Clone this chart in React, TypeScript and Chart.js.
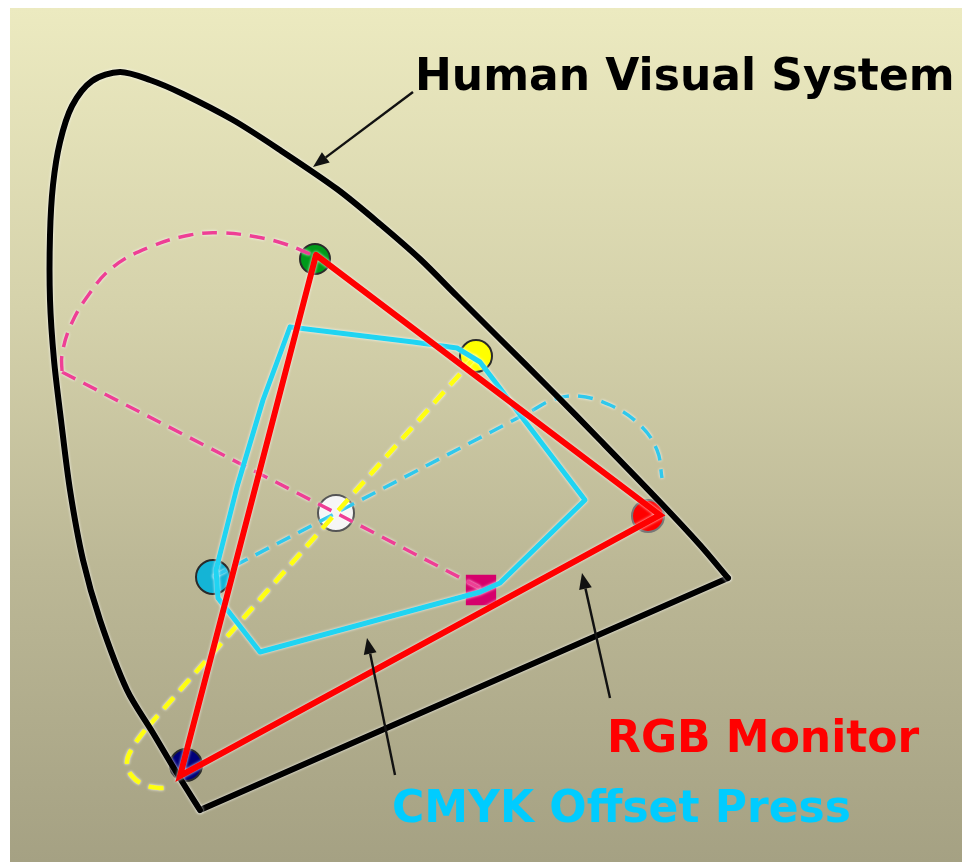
import React, { useEffect, useRef } from "react";
import { Chart, registerables } from "chart.js";

Chart.register(...registerables);

type P = [number, number];

// Diagram coordinates (image units)
const HVS_CURVE: P[] = [
  [200, 810], [178, 775], [153, 733], [127, 690], [100, 620], [83, 560], [70, 490],
  [61, 420], [54, 360], [50, 300], [50, 235], [53, 185], [60, 142], [72, 106],
  [92, 81], [120, 72], [150, 80], [183, 94], [233, 120], [280, 150], [337, 189],
  [380, 224], [420, 259], [457, 296], [500, 339], [550, 389], [600, 440], [660, 502],
  [700, 545], [728, 578],
];
const HVS_BASE: P[] = [[728, 578], [200, 810]];

const RGB_GAMUT: P[] = [[316, 255], [660, 515], [180, 776], [316, 255]];

const CMYK_GAMUT: P[] = [
  [290, 327], [413, 342], [457, 348], [480, 362], [585, 500], [500, 583], [480, 592],
  [260, 652], [218, 598], [216, 570], [237, 487], [263, 400], [290, 327],
];

const MAGENTA_ARC: P[] = [
  [310, 254], [285, 244], [257, 237], [223, 233], [190, 235], [150, 247], [113, 267],
  [87, 297], [70, 327], [62, 355], [62, 372],
];
const MAGENTA_AXIS: P[] = [[62, 372], [336, 513], [480, 588]];

const YELLOW_AXIS: P[] = [[476, 356], [336, 513], [145, 730]];
const YELLOW_ARC: P[] = [
  [145, 730], [133, 747], [127, 762], [132, 776], [145, 785], [160, 788], [172, 787],
];

const CYAN_AXIS: P[] = [[213, 577], [336, 513], [533, 410]];
const CYAN_ARC: P[] = [
  [533, 410], [552, 400], [577, 396], [610, 405], [640, 425], [657, 450], [662, 478],
];

const MARKER_XY: P[] = [
  [315, 259], [476, 356], [213, 577], [186, 765], [481, 590], [336, 513], [648, 516],
];
const MARKER_FILL = ["#009a1a", "#ffff00", "#14b4d6", "#00007a", "#d6006c", "#f6f6f6", "#ff0000"];
const MARKER_EDGE = ["#2a2a2a", "#2a2a2a", "#2a2a2a", "#2a2a2a", "#d6006c", "#555555", "#777777"];
const MARKER_SIZE = [15, 16, 17, 16, 20, 18, 16];
const MARKER_SHAPE = ["circle", "circle", "circle", "circle", "rect", "circle", "circle"];

const ARROW_TAILS: P[] = [[413, 92], [610, 698], [395, 775]];
const ARROW_TIPS: P[] = [[313, 167], [582, 573], [367, 638]];

const LABEL_TEXT = ["Human Visual System", "RGB Monitor", "CMYK Offset Press"];
const LABEL_XY: P[] = [[415, 90], [607, 752], [392, 822]];
const LABEL_COLOR = ["#000000", "#ff0000", "#00ccff"];

const toXY = (pts: P[]) => pts.map(([x, y]) => ({ x, y }));

function lineSet(pts: P[], color: string, width: number, order: number, extra: any = {}) {
  return {
    type: "scatter",
    data: toXY(pts),
    showLine: true,
    borderColor: color,
    backgroundColor: color,
    borderWidth: width,
    pointRadius: 0,
    tension: 0,
    borderCapStyle: "round",
    borderJoinStyle: "round",
    order,
    halo: true,
    clip: false,
    ...extra,
  };
}

const haloPlugin = {
  id: "halo",
  beforeDatasetDraw(chart: any, args: any) {
    const ds = chart.data.datasets[args.index];
    const ctx = chart.ctx;
    ctx.save();
    if (ds.halo) {
      ctx.shadowColor = "rgba(255,255,255,0.95)";
      ctx.shadowBlur = 3;
    }
  },
  afterDatasetDraw(chart: any) {
    chart.ctx.restore();
  },
};

const annotatePlugin = {
  id: "annotate",
  afterDatasetsDraw(chart: any) {
    const ctx = chart.ctx;
    const xs = chart.scales.x;
    const ys = chart.scales.y;
    ctx.save();
    // arrows
    ARROW_TAILS.forEach((tail, i) => {
      const tip = ARROW_TIPS[i];
      const x0 = xs.getPixelForValue(tail[0]);
      const y0 = ys.getPixelForValue(tail[1]);
      const x1 = xs.getPixelForValue(tip[0]);
      const y1 = ys.getPixelForValue(tip[1]);
      const ang = Math.atan2(y1 - y0, x1 - x0);
      const len = 16;
      const half = 6.5;
      const bx = x1 - len * Math.cos(ang);
      const by = y1 - len * Math.sin(ang);
      ctx.strokeStyle = "#111111";
      ctx.fillStyle = "#111111";
      ctx.lineWidth = 2.4;
      ctx.beginPath();
      ctx.moveTo(x0, y0);
      ctx.lineTo(bx, by);
      ctx.stroke();
      ctx.beginPath();
      ctx.moveTo(x1, y1);
      ctx.lineTo(bx + half * Math.sin(ang), by - half * Math.cos(ang));
      ctx.lineTo(bx - half * Math.sin(ang), by + half * Math.cos(ang));
      ctx.closePath();
      ctx.fill();
    });
    // labels
    ctx.font = 'bold 44px "DejaVu Sans", Verdana, sans-serif';
    ctx.textBaseline = "alphabetic";
    ctx.textAlign = "left";
    LABEL_TEXT.forEach((t, i) => {
      ctx.fillStyle = LABEL_COLOR[i];
      ctx.fillText(t, xs.getPixelForValue(LABEL_XY[i][0]), ys.getPixelForValue(LABEL_XY[i][1]));
    });
    ctx.restore();
  },
};

export default function App() {
  const canvasRef = useRef<HTMLCanvasElement | null>(null);

  useEffect(() => {
    if (!canvasRef.current) return;
    const markerSets = MARKER_XY.map((p, i) => ({
      type: "scatter",
      data: toXY([p]),
      pointRadius: MARKER_SIZE[i],
      pointStyle: MARKER_SHAPE[i],
      pointBackgroundColor: MARKER_FILL[i],
      pointBorderColor: MARKER_EDGE[i],
      pointBorderWidth: 2,
      showLine: false,
      order: 10,
      clip: false,
    }));
    const dash = [15, 9];
    const dashed = (extra: any = {}) => ({ borderDash: dash, borderCapStyle: "butt", ...extra });
    const datasets: any[] = [
      ...markerSets,
      lineSet(MAGENTA_ARC, "#ee3f95", 3.5, 8, dashed({ tension: 0.4 })),
      lineSet(MAGENTA_AXIS, "#ee3f95", 3.5, 8, dashed()),
      lineSet(YELLOW_AXIS, "#ffff10", 4.5, 8, dashed()),
      lineSet(YELLOW_ARC, "#ffff10", 4.5, 8, dashed({ tension: 0.4 })),
      lineSet(CYAN_AXIS, "#30c8ec", 3.5, 8, dashed()),
      lineSet(CYAN_ARC, "#30c8ec", 3.5, 8, dashed({ tension: 0.4 })),
      lineSet(HVS_CURVE, "#000000", 6, 6, { tension: 0.3 }),
      lineSet(HVS_BASE, "#000000", 6, 6),
      lineSet(CMYK_GAMUT, "#20d4f2", 5, 4),
      lineSet(RGB_GAMUT, "#ff0000", 6, 2, { borderJoinStyle: "miter" }),
    ];

    const chart = new Chart(canvasRef.current, {
      type: "scatter",
      data: { datasets },
      options: {
        animation: false,
        responsive: true,
        maintainAspectRatio: false,
        events: [],
        layout: { padding: 0, autoPadding: false },
        plugins: { legend: { display: false }, tooltip: { enabled: false } },
        scales: {
          x: { type: "linear", min: 10, max: 962, display: false },
          y: { type: "linear", min: 8, max: 862, reverse: true, display: false },
        },
      },
      plugins: [haloPlugin, annotatePlugin],
    } as any);
    return () => chart.destroy();
  }, []);

  return (
    <div
      style={{
        position: "fixed",
        left: 10,
        top: 8,
        width: 952,
        height: 854,
        background: "linear-gradient(to bottom, #eceac0 0%, #d5d2ab 35%, #bcb896 65%, #a5a183 100%)",
      }}
    >
      <canvas ref={canvasRef} />
    </div>
  );
}
